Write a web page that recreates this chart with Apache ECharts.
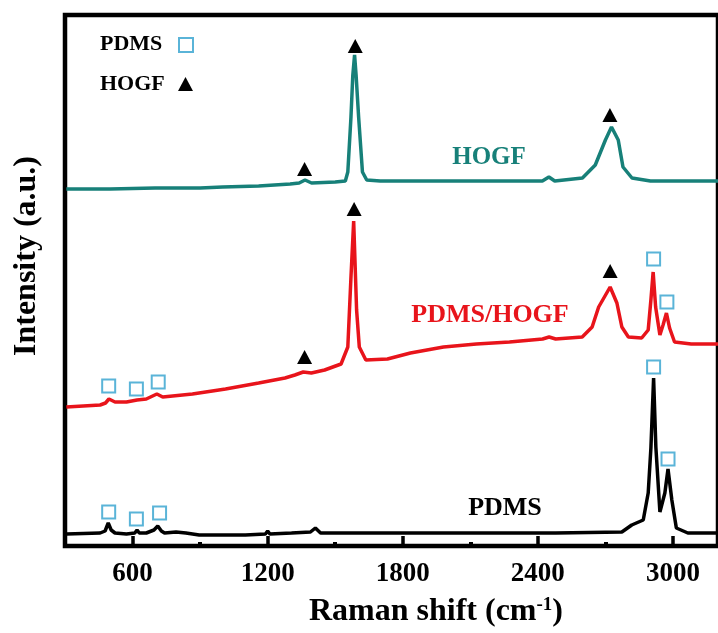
<!DOCTYPE html>
<html>
<head>
<meta charset="utf-8">
<script src="https://cdn.jsdelivr.net/npm/echarts@6/dist/echarts.min.js"></script>
<style>
  html, body { margin: 0; padding: 0; background: #fff; }
  #chart { width: 718px; height: 633px; }
</style>
</head>
<body>
<div id="chart"></div>
<script>
// Raman shift (cm-1), intensity in arbitrary units (curves are stacked with offsets)
const hogf = [
    [306, 357], [500, 357], [700, 358], [900, 358], [1000, 359], [1160, 360], [1300, 362],
    [1340, 363], [1366, 366], [1395, 363], [1500, 364], [1545, 365], [1556, 374], [1570, 429],
    [1578, 470], [1586, 491], [1593, 470], [1604, 429], [1621, 374], [1640, 366], [1700, 365],
    [2000, 365], [2420, 365], [2449, 369], [2475, 365], [2598, 368], [2655, 381], [2700, 406],
    [2727, 419], [2757, 406], [2778, 379], [2818, 368], [2900, 365], [3200, 365]
];
const pdmsHogf = [
    [306, 139], [456, 141], [480, 143], [495, 147], [522, 144], [573, 144], [620, 146],
    [661, 147], [708, 152], [734, 149], [866, 152], [1013, 157], [1160, 163], [1277, 168],
    [1321, 171], [1358, 174], [1394, 173], [1453, 176], [1526, 182], [1556, 199], [1570, 269],
    [1582, 325], [1595, 236], [1607, 199], [1636, 186], [1732, 187], [1834, 193], [1981, 199],
    [2127, 202], [2274, 204], [2421, 207], [2450, 209], [2479, 207], [2597, 209], [2641, 219],
    [2670, 239], [2721, 259], [2751, 243], [2773, 219], [2802, 209], [2861, 208], [2890, 216],
    [2902, 246], [2912, 274], [2923, 239], [2942, 211], [2956, 221], [2971, 233], [2985, 218],
    [3007, 204], [3081, 202], [3200, 202]
];
const pdms = [
    [306, 12], [456, 13], [478, 15], [492, 23], [505, 16], [522, 13], [573, 12], [610, 13],
    [620, 16], [630, 13], [661, 13], [695, 16], [712, 20], [728, 15], [742, 13], [793, 14],
    [837, 13], [896, 11], [1101, 11], [1190, 12], [1200, 15], [1210, 12], [1306, 13],
    [1390, 14], [1412, 18], [1435, 13], [1453, 13], [2479, 13], [2773, 14], [2817, 21],
    [2868, 26], [2890, 53], [2902, 98], [2914, 168], [2924, 99], [2942, 34], [2964, 53],
    [2978, 77], [2995, 46], [3015, 18], [3066, 13], [3200, 13]
];
// peak assignment markers
const hogfPeaks = [
    [1364, 377], [1589, 500], [2720, 431],
    [1364, 189], [1584, 337], [2721, 275]
];
const pdmsPeaks = [
    [494, 160], [617, 157], [714, 164], [2914, 287], [2973, 244],
    [494, 34], [617, 27], [720, 33], [2914, 179], [2978, 87]
];
const majorTicks = [600, 1200, 1800, 2400, 3000];
const minorTicks = [900, 1500, 2100, 2700];

const teal = '#178079';
const red = '#e8141b';
const sqColor = '#5ab4d8';
const serif = '"Liberation Serif", "DejaVu Serif", serif';

const chart = echarts.init(document.getElementById('chart'));

const baseX = {
    type: 'value',
    min: 300,
    max: 3200,
    position: 'bottom',
    splitLine: { show: false }
};

chart.setOption({
    animation: false,
    backgroundColor: '#fff',
    grid: {
        left: 65, top: 15, right: -7, bottom: 87,
        show: true, borderColor: '#000', borderWidth: 4.5, backgroundColor: 'transparent'
    },
    xAxis: [
        Object.assign({}, baseX, {
            axisLine: { show: false },
            axisTick: {
                show: true, inside: true, length: 10, customValues: majorTicks,
                lineStyle: { color: '#000', width: 3.5 }
            },
            axisLabel: {
                customValues: majorTicks, margin: 15,
                formatter: v => String(v),
                color: '#000', fontFamily: serif, fontWeight: 'bold', fontSize: 27
            }
        }),
        Object.assign({}, baseX, {
            axisLine: { show: false },
            axisTick: {
                show: true, inside: true, length: 4, customValues: minorTicks,
                lineStyle: { color: '#000', width: 4 }
            },
            axisLabel: { show: false }
        })
    ],
    yAxis: {
        type: 'value', min: 0, max: 531,
        axisLine: { show: false }, axisTick: { show: false },
        axisLabel: { show: false }, splitLine: { show: false }
    },
    series: [
        { type: 'line', data: hogf, showSymbol: false, lineStyle: { color: teal, width: 3.5 }, z: 3 },
        { type: 'line', data: pdmsHogf, showSymbol: false, lineStyle: { color: red, width: 3.5 }, z: 3 },
        { type: 'line', data: pdms, showSymbol: false, lineStyle: { color: '#000', width: 3.5 }, z: 3 },
        {
            type: 'scatter', data: hogfPeaks, symbol: 'triangle', symbolSize: [15, 14],
            itemStyle: { color: '#000', opacity: 1 }, z: 4
        },
        {
            type: 'scatter', data: pdmsPeaks, symbol: 'rect', symbolSize: 13,
            itemStyle: { color: 'rgba(255,255,255,0)', borderColor: sqColor, borderWidth: 2, opacity: 1 }, z: 4
        }
    ],
    graphic: [
        // legend
        {
            type: 'text', left: 100, top: 33,
            style: { text: 'PDMS', fontFamily: serif, fontWeight: 'bold', fontSize: 22, fill: '#000' }
        },
        {
            type: 'rect', shape: { x: 179, y: 38, width: 14, height: 14 },
            style: { fill: 'none', stroke: sqColor, lineWidth: 2 }
        },
        {
            type: 'text', left: 100, top: 73,
            style: { text: 'HOGF', fontFamily: serif, fontWeight: 'bold', fontSize: 22, fill: '#000' }
        },
        {
            type: 'polygon', shape: { points: [[178, 91], [193, 91], [185.5, 77]] },
            style: { fill: '#000' }
        },
        // curve labels
        {
            type: 'text', x: 489, y: 158,
            style: { text: 'HOGF', fontFamily: serif, fontWeight: 'bold', fontSize: 25, fill: teal, align: 'center', verticalAlign: 'middle' }
        },
        {
            type: 'text', x: 490, y: 315,
            style: { text: 'PDMS/HOGF', fontFamily: serif, fontWeight: 'bold', fontSize: 26, fill: red, align: 'center', verticalAlign: 'middle' }
        },
        {
            type: 'text', x: 505, y: 508,
            style: { text: 'PDMS', fontFamily: serif, fontWeight: 'bold', fontSize: 26, fill: '#000', align: 'center', verticalAlign: 'middle' }
        },
        // axis titles
        {
            type: 'text', x: 27, y: 256, rotation: Math.PI / 2,
            style: { text: 'Intensity (a.u.)', fontFamily: serif, fontWeight: 'bold', fontSize: 32, fill: '#000', align: 'center', verticalAlign: 'middle' }
        },
        {
            type: 'text', x: 436, y: 612,
            style: {
                text: 'Raman shift (cm{sup|-1})',
                fontFamily: serif, fontWeight: 'bold', fontSize: 32, fill: '#000',
                align: 'center', verticalAlign: 'middle',
                rich: {
                    sup: { fontFamily: serif, fontWeight: 'bold', fontSize: 19, fill: '#000', verticalAlign: 'top', padding: [0, 0, 12, 0] }
                }
            }
        }
    ]
});
</script>
</body>
</html>
